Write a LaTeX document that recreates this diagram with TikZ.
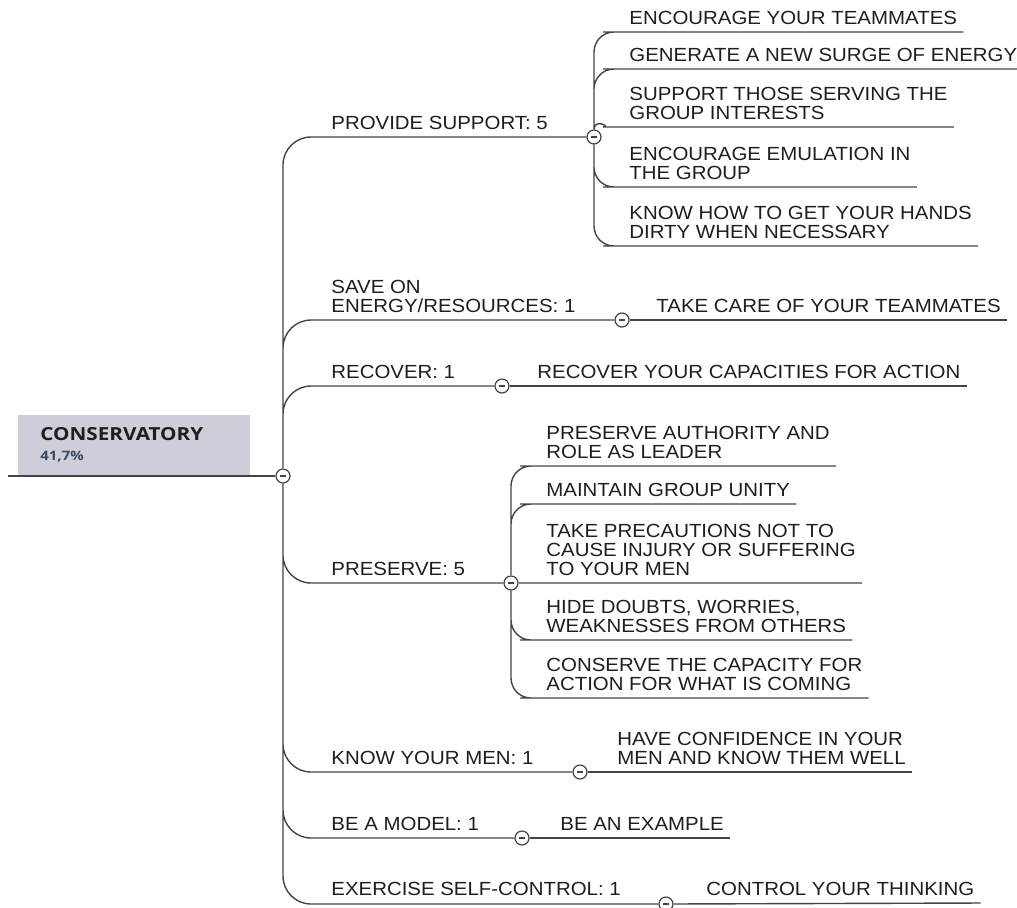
\documentclass[tikz,border=0pt]{standalone}
\usepackage{fontspec}
\setmainfont{Liberation Sans}[FakeStretch=1.075]
\newfontfamily\rootfont{Open Sans}[FakeStretch=1.15]
\usepackage{tikz}

\definecolor{boxfill}{HTML}{CDCEDA}
\definecolor{linegray}{HTML}{444444}
\definecolor{pctcol}{HTML}{3A4A5C}
\definecolor{txt}{HTML}{1E1E1E}

\begin{document}
\begin{tikzpicture}[x=0.5pt, y=-0.5pt,
	branch/.style={draw=linegray, line width=0.7pt, rounded corners=10pt},
	trunk/.style={branch, rounded corners=14pt},
	knob/.style={circle, draw=linegray, fill=white, line width=0.6pt, minimum size=7pt, inner sep=0pt,
		path picture={\draw[line width=0.8pt, linegray] ([xshift=-1.7pt]path picture bounding box.center) -- ([xshift=1.7pt]path picture bounding box.center);}},
	lab/.style={anchor=south west, inner xsep=3pt, inner ysep=3.5pt, align=left, text=txt, font=\fontsize{9.5}{9.5}\selectfont},
	rootbox/.style={anchor=south west, fill=boxfill, minimum width=116pt, minimum height=30pt, inner xsep=11pt, text width=94pt, align=left, text=txt, font=\rootfont\bfseries\fontsize{9}{10}\selectfont}]
	\useasboundingbox (0,0) rectangle (1017,907);

	% root
	\node[rootbox] (root) at (18,475) {CONSERVATORY\\{\fontsize{6.5}{10}\selectfont\color{pctcol}41,7\%}};
	\coordinate (rootin) at (8,476);
	\node[knob] (rk) at (283,476) {};
	\draw[branch] (rootin) -- (rk);

	% first level
	\node[lab] (ps) at (325,137) {PROVIDE SUPPORT: 5};
	\node[lab] (se) at (325,320) {SAVE ON\\ENERGY/RESOURCES: 1};
	\node[lab] (rc) at (325,386) {RECOVER: 1};
	\node[lab] (pr) at (325,583) {PRESERVE: 5};
	\node[lab] (km) at (325,772) {KNOW YOUR MEN: 1};
	\node[lab] (bm) at (325,838) {BE A MODEL: 1};
	\node[lab] (ex) at (325,903) {EXERCISE SELF-CONTROL: 1};

	\node[knob] (psk) at (594,137) {};
	\node[knob] (sek) at (622,320) {};
	\node[knob] (rck) at (502,386) {};
	\node[knob] (prk) at (511,583) {};
	\node[knob] (kmk) at (580,772) {};
	\node[knob] (bmk) at (522,838) {};
	\node[knob] (exk) at (666,904) {};

	\draw[trunk]
	(rk) |- (psk)
	(rk) |- (sek)
	(rk) |- (rck)
	(rk) |- (prk)
	(rk) |- (kmk)
	(rk) |- (bmk)
	(rk) |- (exk);

	% provide support
	\node[lab] (ps1) at (623,32) {ENCOURAGE YOUR TEAMMATES};
	\node[lab] (ps2) at (623,69) {GENERATE A NEW SURGE OF ENERGY};
	\node[lab] (ps3) at (623,127) {SUPPORT THOSE SERVING THE\\GROUP INTERESTS};
	\node[lab] (ps4) at (623,187) {ENCOURAGE EMULATION IN\\THE GROUP};
	\node[lab] (ps5) at (623,246) {KNOW HOW TO GET YOUR HANDS\\DIRTY WHEN NECESSARY};
	\draw[branch]
	(psk) |- (ps1.south west) -- (ps1.south east)
	(psk) |- (ps2.south west) -- (ps2.south east)
	(psk.north) to[out=90, in=180] (ps3.south west) -- (ps3.south east)
	(psk) |- (ps4.south west) -- (ps4.south east)
	(psk) |- (ps5.south west) -- (ps5.south east);

	% save on energy, recover
	\node[lab] (se1) at (650,320) {TAKE CARE OF YOUR TEAMMATES};
	\node[lab] (rc1) at (531,386) {RECOVER YOUR CAPACITIES FOR ACTION};
	\draw[branch] (sek) -- (se1.south east);
	\draw[branch] (rck) -- (rc1.south east);

	% preserve
	\node[lab] (pr1) at (540,466) {PRESERVE AUTHORITY AND\\ROLE AS LEADER};
	\node[lab] (pr2) at (540,504) {MAINTAIN GROUP UNITY};
	\node[lab] (pr3) at (540,583) {TAKE PRECAUTIONS NOT TO\\CAUSE INJURY OR SUFFERING\\TO YOUR MEN};
	\node[lab] (pr4) at (540,640) {HIDE DOUBTS, WORRIES,\\WEAKNESSES FROM OTHERS};
	\node[lab] (pr5) at (540,698) {CONSERVE THE CAPACITY FOR\\ACTION FOR WHAT IS COMING};
	\draw[branch]
	(prk) |- (pr1.south west) -- (pr1.south east)
	(prk) |- (pr2.south west) -- (pr2.south east)
	(prk) -- (pr3.south east)
	(prk) |- (pr4.south west) -- (pr4.south east)
	(prk) |- (pr5.south west) -- (pr5.south east);

	% the rest
	\node[lab] (km1) at (611,772) {HAVE CONFIDENCE IN YOUR\\MEN AND KNOW THEM WELL};
	\node[lab] (bm1) at (554,838) {BE AN EXAMPLE};
	\node[lab] (ex1) at (700,903) {CONTROL YOUR THINKING};
	\draw[branch] (kmk) -- (km1.south east);
	\draw[branch] (bmk) -- (bm1.south east);
	\draw[branch] (exk) -- (ex1.south east);
\end{tikzpicture}
\end{document}
